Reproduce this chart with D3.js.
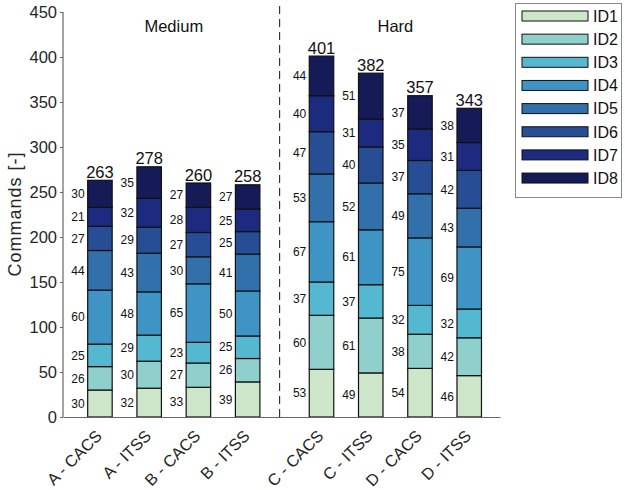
<!DOCTYPE html>
<html><head><meta charset="utf-8">
<script src="https://cdn.jsdelivr.net/npm/d3@7"></script>
<style>body{margin:0;background:#fff}svg{display:block;font-family:"Liberation Sans",Arial,sans-serif}</style>
</head><body><div id="chart"></div>
<script>
const categories = ["A - CACS","A - ITSS","B - CACS","B - ITSS","C - CACS","C - ITSS","D - CACS","D - ITSS"];
const positions = [1,2,3,4,5.5,6.5,7.5,8.5];
const seriesNames = ["ID1","ID2","ID3","ID4","ID5","ID6","ID7","ID8"];
const ID1 = [30,32,33,39,53,49,54,46];
const ID2 = [26,30,27,26,60,61,38,42];
const ID3 = [25,29,23,25,37,37,32,32];
const ID4 = [60,48,65,50,67,61,75,69];
const ID5 = [44,43,30,41,53,52,49,43];
const ID6 = [27,29,27,25,47,40,37,42];
const ID7 = [21,32,28,25,40,31,35,31];
const ID8 = [30,35,27,27,44,51,37,38];
const yTicks = [0,50,100,150,200,250,300,350,400,450];
const groupTitles = ["Medium","Hard"];
const groupCenters = [2.5,7];
const dividerPos = 4.65;
const colors = ["#cde6c9","#90d0cc","#53b8d0","#3e94c4","#3170ab","#274d94","#1c2a80","#141b56"];

const series = [ID1,ID2,ID3,ID4,ID5,ID6,ID7,ID8];
const W=625,H=490;
const svg = d3.select("#chart").append("svg").attr("width",W).attr("height",H);
const x = d3.scaleLinear().domain([0.25,9.125]).range([63,500]);
const y = d3.scaleLinear().domain([0,450]).range([417,12]);
const barW = 24.5;

const rows = categories.map((c,i)=>{const o={cat:c,pos:positions[i]};seriesNames.forEach((s,k)=>o[s]=series[k][i]);return o;});
const stacked = d3.stack().keys(seriesNames)(rows);

const g = svg.append("g");
stacked.forEach((layer,k)=>{
  g.selectAll(null).data(layer).enter().append("rect")
    .attr("x",d=>x(d.data.pos)-barW/2).attr("width",barW)
    .attr("y",d=>y(d[1])).attr("height",d=>y(d[0])-y(d[1]))
    .attr("fill",colors[k]).attr("stroke","#111").attr("stroke-width",1.2);
  g.selectAll(null).data(layer).enter().append("text")
    .attr("x",d=>x(d.data.pos)-barW/2-3).attr("y",d=>(y(d[0])+y(d[1]))/2)
    .attr("dy","0.35em").attr("text-anchor","end").attr("font-size",12).attr("fill","#111")
    .text(d=>d[1]-d[0]);
});
// totals
const topLayer = stacked[stacked.length-1];
g.selectAll(null).data(topLayer).enter().append("text")
  .attr("x",d=>x(d.data.pos)).attr("y",d=>y(d[1])-2.5)
  .attr("text-anchor","middle").attr("font-size",16.5).attr("fill","#111")
  .text(d=>d[1]);

// axes
const yAxis = d3.axisLeft(y).tickValues(yTicks).tickSize(3).tickPadding(3);
const ya = svg.append("g").attr("transform","translate(63,0)").call(yAxis);
ya.select(".domain").attr("stroke","#666").attr("stroke-width",1.2).attr("d","M0,"+y(450)+"V"+y(0));
ya.selectAll(".tick line").attr("stroke","#666");
ya.selectAll("text").attr("font-size",16.5).attr("fill","#262626").attr("font-family","Liberation Sans, Arial, sans-serif");

const xAxis = d3.axisBottom(x).tickValues(positions).tickFormat("").tickSize(0);
const xa = svg.append("g").attr("transform","translate(0,417)").call(xAxis);
xa.select(".domain").attr("stroke","#666").attr("stroke-width",1.2);
svg.append("g").selectAll("text").data(categories).enter().append("text")
  .attr("transform",(d,i)=>"translate("+(x(positions[i])+3)+","+(437)+") rotate(-45)")
  .attr("text-anchor","end").attr("font-size",16.3).attr("fill","#262626")
  .text(d=>d);

// divider
svg.append("line").attr("x1",x(dividerPos)).attr("x2",x(dividerPos)).attr("y1",6).attr("y2",417)
  .attr("stroke","#111").attr("stroke-width",1).attr("stroke-dasharray","8,5");

// group titles
groupTitles.forEach((t,i)=>svg.append("text").attr("x",x(groupCenters[i])).attr("y",32)
  .attr("text-anchor","middle").attr("font-size",16.5).attr("fill","#111").text(t));

// y label
svg.append("text").attr("transform","translate(21,214) rotate(-90)").attr("text-anchor","middle")
  .attr("font-size",18).attr("letter-spacing","1px").attr("fill","#262626").text("Commands [-]");

// legend
const lg = svg.append("g");
lg.append("rect").attr("x",515.5).attr("y",3.5).attr("width",106).attr("height",194).attr("fill","#fff").attr("stroke","#888");
seriesNames.forEach((s,k)=>{
  const yy = 11 + k*23.15;
  lg.append("rect").attr("x",522).attr("y",yy).attr("width",66).attr("height",10).attr("fill",colors[k]).attr("stroke","#111").attr("stroke-width",1);
  lg.append("text").attr("x",593).attr("y",yy+5).attr("dy","0.36em").attr("font-size",16).attr("fill","#111").text(s);
});
</script></body></html>
